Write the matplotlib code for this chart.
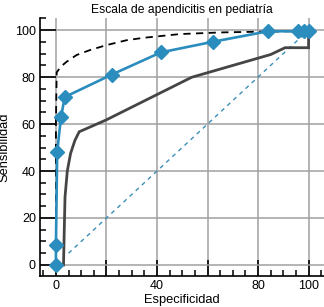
import matplotlib.pyplot as plt
from matplotlib.ticker import MultipleLocator, FixedLocator

plt.rcParams['font.family'] = ['Liberation Sans', 'DejaVu Sans']

# curva de la escala (azul, con rombos)
esc_x = [0, 0, 0.5, 2, 3.5, 22, 41.5, 62, 84, 96, 98, 100]
esc_y = [0, 8.5, 48, 63, 71.5, 81, 90.5, 95, 99.5, 99.5, 99.5, 99.5]

# curva discontinua negra
dash_x = [0, 0, 0.3, 2, 4.2, 8.2, 13.5, 20, 28, 34.6, 49, 65, 79.5, 100]
dash_y = [0, 60, 82, 84.5, 86.5, 89.4, 91.5, 93.6, 95.7, 96.7, 98.3, 99, 99.3, 99.6]

# curva gris
gris_x = [0, 3, 3.3, 3.6, 4.5, 5.8, 7.5, 9.2, 19.8, 53.7, 85, 90.7, 100, 100]
gris_y = [0, 0, 15, 29, 40, 47.5, 53, 56.7, 61.7, 79.9, 89.6, 92.5, 92.5, 100]

# diagonal de referencia
diag_x = [5, 100]
diag_y = [5, 100]

xticks = [0, 20, 40, 60, 80, 100]
xlabels = ['0', '', '40', '', '80', '100']
yticks = [0, 20, 40, 60, 80, 100]

fig = plt.figure(figsize=(3.24, 3.07), dpi=100)
ax = fig.add_axes([0.1235, 0.101, 0.8765, 0.84])

ax.set_xlim(-6.3, 106.1)
ax.set_ylim(-4.7, 105.1)

ax.xaxis.set_major_locator(FixedLocator(xticks))
ax.set_xticklabels(xlabels)
ax.xaxis.set_minor_locator(MultipleLocator(5))
ax.yaxis.set_major_locator(FixedLocator(yticks))
ax.yaxis.set_minor_locator(MultipleLocator(5))

ax.grid(True, which='major', color='#a0a0a0', lw=1.1)
ax.set_axisbelow(True)

ax.tick_params(which='major', direction='in', length=11.5, width=1.2, labelsize=9, pad=3)
ax.tick_params(which='minor', direction='in', length=4.5, width=1.1)

for s in ['top', 'right']:
    ax.spines[s].set_visible(False)
for s in ['left', 'bottom']:
    ax.spines[s].set_linewidth(1.2)

ax.plot(diag_x, diag_y, color='#3a8fb7', lw=1.0, ls=(0, (3, 3)), zorder=3)
ax.plot(dash_x, dash_y, color='black', lw=1.3, ls=(0, (4, 3)), zorder=3)
ax.plot(gris_x, gris_y, color='#454545', lw=2.0, zorder=4, solid_joinstyle='miter')
ax.plot(esc_x, esc_y, color='#2b8cbe', lw=1.9, marker='D', ms=7.5, mec='#2b8cbe', zorder=5, clip_on=False)

ax.set_title('Escala de apendicitis en pediatría', fontsize=8.7, pad=4)
ax.set_xlabel('Especificidad', fontsize=9.3, labelpad=1)
ax.set_ylabel('Sensibilidad', fontsize=9.3, labelpad=3)

fig.savefig('out.png', dpi=100)
